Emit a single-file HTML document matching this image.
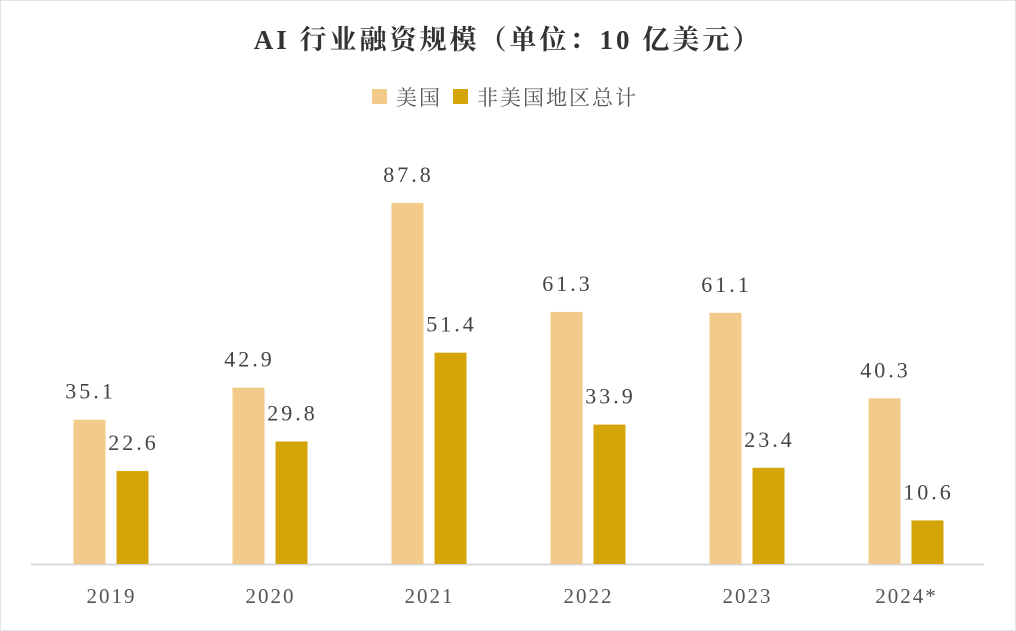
<!DOCTYPE html>
<html><head><meta charset="utf-8"><style>
html,body{margin:0;padding:0;background:#fff;}
svg{display:block;}
text{font-family:"Liberation Serif","Noto Serif CJK SC",serif;}
</style></head><body>
<svg id="chart" width="1016" height="631">
<rect x="0.5" y="0.5" width="1015" height="630" fill="#fff" stroke="#e2e2e2"/>
<text x="508" y="49" text-anchor="middle" font-size="27" font-weight="bold" letter-spacing="3" fill="#333">AI 行业融资规模（单位：10 亿美元）</text>
<g>
<rect x="372" y="89" width="15" height="15" fill="#F2CB8A"/>
<text x="396" y="105" font-size="21" letter-spacing="2" fill="#555">美国</text>
<rect x="453" y="89" width="15" height="15" fill="#D4A408"/>
<text x="477" y="105" font-size="21" letter-spacing="2" fill="#555">非美国地区总计</text>
</g>
<line x1="31" y1="564.5" x2="984" y2="564.5" stroke="#d9d9d9" stroke-width="2"/>
<g id="bars"></g>
</svg>
<script>
const categories = ["2019","2020","2021","2022","2023","2024*"];
const usValues = [35.1,42.9,87.8,61.3,61.1,40.3];
const nonUsValues = [22.6,29.8,51.4,33.9,23.4,10.6];
const valueLabelsUs = ["35.1","42.9","87.8","61.3","61.1","40.3"];
const valueLabelsNonUs = ["22.6","29.8","51.4","33.9","23.4","10.6"];

const NS="http://www.w3.org/2000/svg";
const g=document.getElementById('bars');
const x0=31, bandW=159, baseY=564, pxPerUnit=361/87.8;
function xCenter(i){return x0+bandW*(i+0.5);}
function yScale(v){return baseY - v*pxPerUnit;}
function mk(tag,attrs){const e=document.createElementNS(NS,tag);for(const k in attrs)e.setAttribute(k,attrs[k]);g.appendChild(e);return e;}
categories.forEach((c,i)=>{
  const cx=xCenter(i);
  const series=[[usValues[i],valueLabelsUs[i],cx-37,'#F2CB8A','us'],[nonUsValues[i],valueLabelsNonUs[i],cx+6,'#D4A408','non-us']];
  series.forEach(([v,lab,x,col,key])=>{
    const y=yScale(v);
    const r=mk('rect',{x:x,y:y,width:32,height:baseY-y,fill:col});
    
    
    const t=mk('text',{x:x+17,y:y-21,'text-anchor':'middle','font-size':'22','letter-spacing':'3',fill:'#444'});
    t.textContent=lab;
    
    
  });
  const tl=mk('text',{x:cx+1,y:603,'text-anchor':'middle','font-size':'21','letter-spacing':'2',fill:'#555'});
  tl.textContent=c;
  
  
});
</script>
</body></html>
